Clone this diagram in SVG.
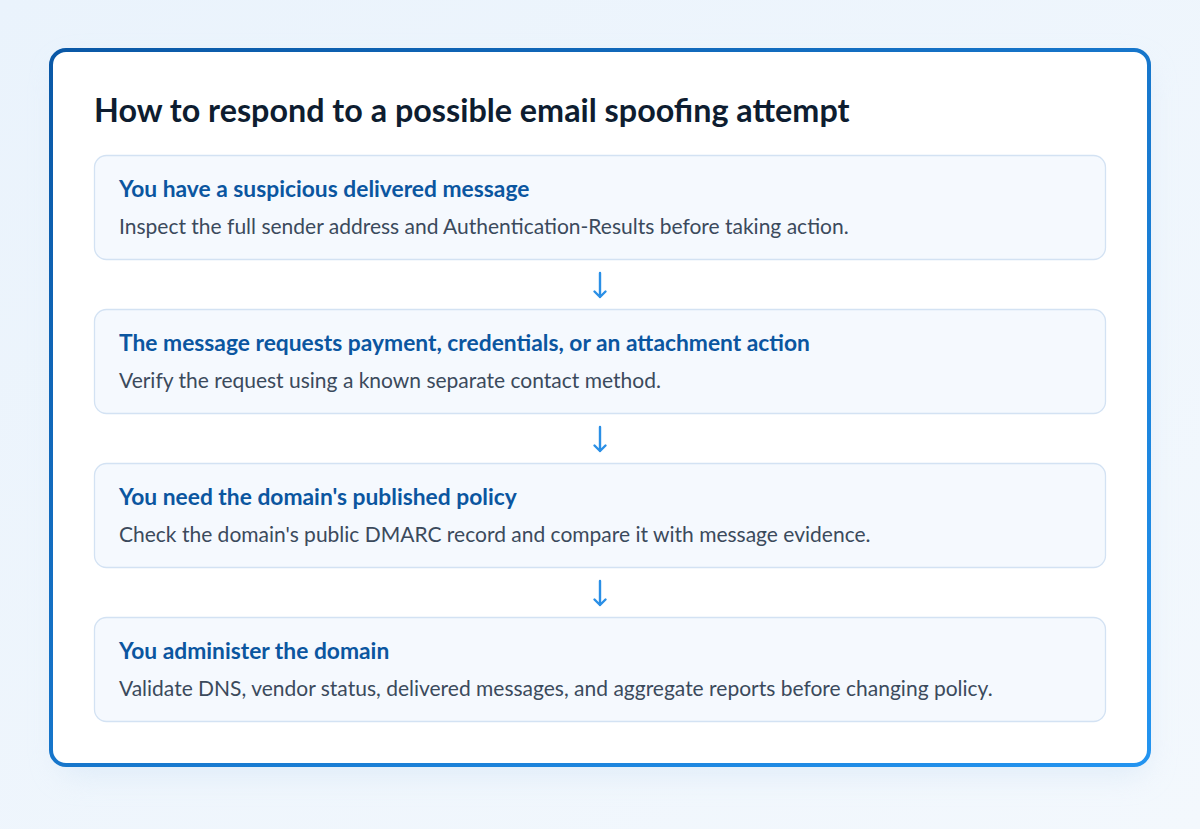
<svg xmlns="http://www.w3.org/2000/svg" width="1200" height="829" viewBox="0 0 1200 829">
<defs>
<linearGradient id="bg" x1="0" y1="0" x2="1" y2="1">
<stop offset="0" stop-color="#eaf3fc"/>
<stop offset="1" stop-color="#f3f8fd"/>
</linearGradient>
<linearGradient id="frame" x1="0" y1="0" x2="1" y2="1">
<stop offset="0" stop-color="#0a58a6"/>
<stop offset="1" stop-color="#2394f0"/>
</linearGradient>
<filter id="sh" x="-10%" y="-10%" width="120%" height="130%">
<feGaussianBlur stdDeviation="14"/>
</filter>
</defs>
<style>
.box{fill:#f5f9fe;stroke:#d3e2f3;stroke-width:1.3}
.h{font-family:"Lato","Noto Sans",sans-serif;font-weight:700;font-size:22.8px;fill:#0b56a0}
.b{font-family:"Lato","Noto Sans",sans-serif;font-size:21px;fill:#3b4a5c}
.t{font-family:"Lato","Noto Sans",sans-serif;font-weight:700;font-size:32.3px;fill:#0e1d30}
.arr{fill:none;stroke:#2a8fe6;stroke-width:2.4;stroke-linecap:round;stroke-linejoin:round}
</style>
<rect width="1200" height="829" fill="url(#bg)"/>
<rect x="58" y="64" width="1090" height="712" rx="18" fill="#d6e6f6" opacity="0.6" filter="url(#sh)"/>
<rect x="51" y="50" width="1098" height="715" rx="15" fill="#ffffff" stroke="url(#frame)" stroke-width="4"/>
<text class="t" x="94" y="122">How to respond to a possible email spoofing attempt</text>
<g id="node1">
<rect class="box" x="94.5" y="155.5" width="1011" height="104" rx="12"/>
<text class="h" x="119" y="197">You have a suspicious delivered message</text>
<text class="b" x="119" y="234">Inspect the full sender address and Authentication-Results before taking action.</text>
</g>
<g id="node2">
<rect class="box" x="94.5" y="309.5" width="1011" height="104" rx="12"/>
<text class="h" x="119" y="351">The message requests payment, credentials, or an attachment action</text>
<text class="b" x="119" y="388">Verify the request using a known separate contact method.</text>
</g>
<g id="node3">
<rect class="box" x="94.5" y="463.5" width="1011" height="104" rx="12"/>
<text class="h" x="119" y="505">You need the domain's published policy</text>
<text class="b" x="119" y="542">Check the domain's public DMARC record and compare it with message evidence.</text>
</g>
<g id="node4">
<rect class="box" x="94.5" y="617.5" width="1011" height="104" rx="12"/>
<text class="h" x="119" y="659">You administer the domain</text>
<text class="b" x="119" y="696">Validate DNS, vendor status, delivered messages, and aggregate reports before changing policy.</text>
</g>
<g id="connectors">
<path class="arr" d="M600 273V297M594.5 291.5L600 297L605.5 291.5"/>
<path class="arr" d="M600 427V451M594.5 445.5L600 451L605.5 445.5"/>
<path class="arr" d="M600 581V605M594.5 599.5L600 605L605.5 599.5"/>
</g>
</svg>
